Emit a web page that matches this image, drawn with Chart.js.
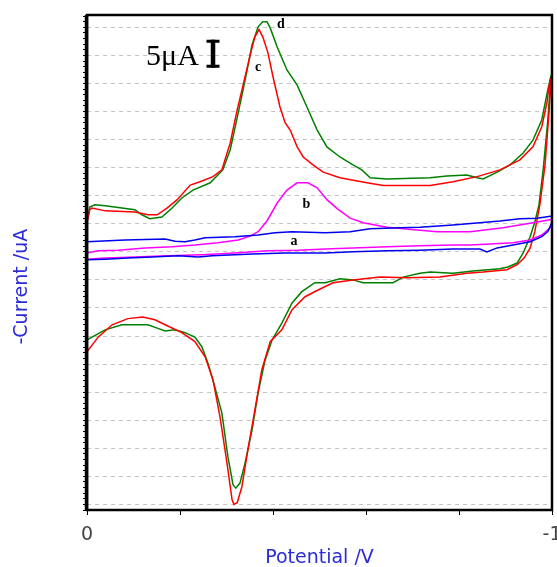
<!DOCTYPE html>
<html><head><meta charset="utf-8">
<script src="https://cdn.jsdelivr.net/npm/chart.js@4"></script>
<style>
html,body{margin:0;padding:0;background:#fff;overflow:hidden;width:557px;height:567px}
#wrap{position:absolute;left:0;top:0;width:575px;height:567px}
</style>
</head><body>
<div id="wrap"><canvas id="c" width="575" height="567"></canvas></div>
<script>
// ---- data (potential in V, -current in µA) ----
const aE = [0, -0.082, -0.168, -0.189, -0.211, -0.232, -0.254, -0.318, -0.368, -0.404, -0.441, -0.512, -0.566, -0.609, -0.673, -0.716, -0.787, -0.845, -0.888, -0.931, -0.968, -1.0,
  -1.0, -0.991, -0.978, -0.953, -0.916, -0.882, -0.860, -0.845, -0.787, -0.716, -0.645, -0.572, -0.512, -0.426, -0.355, -0.269, -0.239, -0.196, -0.140, -0.088, -0.039, 0, 0];
const aI = [6.8, 7.1, 7.3, 6.9, 6.8, 7.1, 7.5, 7.7, 8.0, 8.4, 8.6, 8.4, 8.6, 9.1, 9.3, 9.4, 9.8, 10.2, 10.5, 10.9, 11.0, 11.4,
  10.2, 8.6, 7.7, 6.8, 6.2, 5.7, 5.0, 5.5, 5.5, 5.3, 5.2, 5.0, 4.8, 4.8, 4.6, 4.3, 4.1, 4.3, 4.1, 3.9, 3.7, 3.6, 6.8];

const bE = [0, -0.024, -0.067, -0.125, -0.183, -0.232, -0.282, -0.325, -0.351, -0.368, -0.387, -0.409, -0.430, -0.452, -0.475, -0.495, -0.516, -0.538, -0.566, -0.594, -0.645, -0.680, -0.753, -0.824, -0.895, -0.946, -0.996, -1.0,
  -1.0, -0.996, -0.978, -0.953, -0.916, -0.867, -0.824, -0.787, -0.716, -0.645, -0.572, -0.512, -0.454, -0.389, -0.318, -0.247, -0.174, -0.103, -0.039, 0, 0];
const bI = [4.8, 5.2, 5.3, 5.7, 5.9, 6.2, 6.6, 7.1, 7.8, 8.6, 10.5, 13.7, 16.0, 17.3, 17.3, 16.4, 14.3, 12.7, 11.0, 10.2, 9.4, 9.1, 8.6, 8.6, 9.3, 10.0, 10.7, 10.9,
  10.5, 9.3, 8.0, 7.1, 6.6, 6.4, 6.2, 6.2, 6.1, 5.9, 5.7, 5.5, 5.3, 5.2, 4.8, 4.5, 4.3, 4.1, 3.9, 3.7, 4.8];

const cE = [0, -0.006, -0.011, -0.039, -0.103, -0.131, -0.151, -0.172, -0.194, -0.222, -0.243, -0.271, -0.290, -0.308, -0.323, -0.340, -0.351, -0.361, -0.370, -0.378, -0.389, -0.400, -0.415, -0.426, -0.437, -0.452, -0.465, -0.486, -0.508, -0.544, -0.602, -0.637, -0.738, -0.787, -0.839, -0.888, -0.931, -0.959, -0.978, -0.989, -0.994, -0.998,
  -0.994, -0.985, -0.974, -0.963, -0.953, -0.940, -0.925, -0.903, -0.852, -0.817, -0.759, -0.688, -0.630, -0.572, -0.529, -0.497, -0.469, -0.441, -0.419, -0.394, -0.376, -0.361, -0.346, -0.333, -0.323, -0.316, -0.312, -0.301, -0.286, -0.271, -0.254, -0.232, -0.204, -0.168, -0.146, -0.120, -0.088, -0.054, -0.024, 0, 0];
const cI = [10.2, 12.5, 12.8, 12.3, 12.1, 11.6, 11.6, 12.8, 14.3, 16.9, 17.5, 18.4, 19.6, 24.4, 30.3, 36.2, 40.1, 43.3, 44.6, 43.3, 40.5, 36.2, 30.8, 28.0, 26.7, 23.7, 21.9, 20.5, 19.2, 18.2, 17.3, 16.8, 16.8, 17.5, 18.4, 19.6, 21.4, 23.7, 27.3, 31.5, 34.7, 36.0,
  30.3, 20.5, 13.4, 8.6, 5.7, 3.9, 2.7, 1.8, 1.4, 1.2, 0.5, 0.4, 0.5, 0, -0.5, -1.8, -3.0, -5.3, -8.9, -11.0, -16.0, -23.2, -30.3, -36.9, -39.7, -40.0, -39.2, -32.6, -24.4, -17.8, -13.7, -11.0, -9.4, -8.0, -7.1, -6.6, -6.9, -8.0, -10.2, -12.8, 10.2];

const dE = [0, -0.006, -0.017, -0.039, -0.103, -0.118, -0.135, -0.161, -0.183, -0.204, -0.228, -0.265, -0.292, -0.308, -0.323, -0.340, -0.355, -0.368, -0.378, -0.387, -0.394, -0.409, -0.430, -0.452, -0.473, -0.495, -0.516, -0.544, -0.572, -0.591, -0.609, -0.645, -0.738, -0.774, -0.817, -0.839, -0.852, -0.882, -0.910, -0.938, -0.959, -0.978, -0.991, -0.998,
  -0.991, -0.981, -0.972, -0.963, -0.953, -0.938, -0.925, -0.905, -0.888, -0.830, -0.787, -0.738, -0.716, -0.680, -0.658, -0.594, -0.572, -0.544, -0.512, -0.490, -0.462, -0.441, -0.419, -0.398, -0.383, -0.368, -0.355, -0.340, -0.329, -0.320, -0.314, -0.303, -0.290, -0.275, -0.260, -0.247, -0.232, -0.211, -0.189, -0.168, -0.151, -0.131, -0.075, -0.039, 0, 0];
const dI = [10.3, 13.0, 13.4, 13.2, 12.5, 11.6, 10.9, 11.2, 12.8, 14.6, 16.0, 17.3, 19.6, 23.2, 28.9, 35.6, 41.9, 45.1, 46.0, 46.0, 44.9, 41.5, 37.4, 34.7, 30.8, 26.7, 23.7, 21.9, 20.5, 19.6, 18.2, 18.0, 18.2, 18.5, 18.7, 18.2, 18.0, 19.2, 20.5, 22.6, 24.9, 28.5, 33.9, 36.5,
  28.5, 19.6, 13.4, 10.3, 7.7, 4.8, 3.0, 2.3, 2.0, 1.6, 1.2, 1.4, 1.2, 0.5, -0.5, -0.5, 0, 0.2, -0.5, -0.5, -2.1, -4.1, -7.7, -10.7, -14.3, -20.1, -26.7, -32.6, -36.2, -37.1, -36.5, -31.5, -23.7, -19.1, -14.8, -11.9, -10.2, -9.4, -8.9, -9.1, -8.6, -8.0, -8.0, -8.9, -10.7, 10.3];

const curveNames = ['a', 'b', 'c', 'd'];
const curveColors = ['#0000f0', '#ff00ff', '#ff0000', '#008000'];
const labelE = [-0.445, -0.472, -0.368, -0.417];
const labelI = [6.9, 13.4, 37.8, 45.6];

const xTickValues = [0, -0.2, -0.4, -0.6, -0.8, -1];
const xTickLabels = ['0', '', '', '', '', '-1'];
const yMin = -41.0, yMax = 47.2;

const scaleText = '5\u03BCA';
const scaleTextE = -0.127, scaleTextI = 38.3;
const scaleBarE = -0.271, scaleBarTop = 42.8, scaleBarSize = 5;

// ---- build ----
const series = [[aE, aI], [bE, bI], [cE, cI], [dE, dI]];
const datasets = series.map(([E, I], k) => ({
  label: curveNames[k],
  data: E.map((e, i) => ({x: e, y: I[i]})),
  borderColor: curveColors[k],
  borderWidth: 1.5,
  showLine: true,
  pointRadius: 0,
  fill: false,
  tension: 0
}));

const annot = {
  id: 'annot',
  afterDatasetsDraw(chart) {
    const {ctx, chartArea: ca, scales: {x, y}} = chart;
    ctx.save();
    ctx.strokeStyle = '#000';
    ctx.lineWidth = 2.5;
    ctx.strokeRect(ca.left, ca.top, ca.right - ca.left, ca.bottom - ca.top);
    ctx.lineWidth = 3.5;
    ctx.beginPath(); ctx.moveTo(ca.left - 0.5, ca.top); ctx.lineTo(ca.left - 0.5, ca.bottom); ctx.stroke();
    ctx.fillStyle = '#000';
    ctx.font = 'bold 14px "Liberation Serif"';
    ctx.textAlign = 'center'; ctx.textBaseline = 'middle';
    curveNames.forEach((t, i) => ctx.fillText(t, x.getPixelForValue(labelE[i]), y.getPixelForValue(labelI[i])));
    ctx.font = '30px "Liberation Serif"';
    ctx.textAlign = 'left'; ctx.textBaseline = 'alphabetic';
    ctx.fillText(scaleText, x.getPixelForValue(scaleTextE), y.getPixelForValue(scaleTextI));
    const bx = x.getPixelForValue(scaleBarE);
    const by1 = y.getPixelForValue(scaleBarTop), by2 = y.getPixelForValue(scaleBarTop - scaleBarSize);
    ctx.lineWidth = 4.5;
    ctx.beginPath(); ctx.moveTo(bx, by1); ctx.lineTo(bx, by2); ctx.stroke();
    ctx.lineWidth = 3;
    ctx.beginPath();
    ctx.moveTo(bx - 6.5, by1 + 1.5); ctx.lineTo(bx + 6.5, by1 + 1.5);
    ctx.moveTo(bx - 6.5, by2 - 1.5); ctx.lineTo(bx + 6.5, by2 - 1.5);
    ctx.stroke();
    ctx.restore();
  }
};

const titleColor = '#2b2bd9';
new Chart(document.getElementById('c'), {
  type: 'scatter',
  data: {datasets},
  plugins: [annot],
  options: {
    responsive: false,
    animation: false,
    layout: {padding: {left: 0, top: 15, right: 23, bottom: 0}},
    plugins: {legend: {display: false}, tooltip: {enabled: false}},
    scales: {
      x: {
        type: 'linear', min: -1, max: 0, reverse: true,
        afterBuildTicks: s => { s.ticks = xTickValues.map(v => ({value: v})); },
        afterFit: s => { s.height = 57; },
        ticks: {callback: (v, i) => xTickLabels[i], color: '#444', font: {family: 'DejaVu Sans', size: 19}, padding: 9, maxRotation: 0, autoSkip: false},
        grid: {drawOnChartArea: false, color: '#000', tickColor: '#000', tickLength: 5},
        border: {display: false},
        title: {display: true, text: 'Potential /V', color: titleColor, font: {family: 'DejaVu Sans', size: 19}, padding: {top: 0, bottom: -2}}
      },
      y: {
        type: 'linear', min: yMin, max: yMax,
        afterBuildTicks: s => { const t = []; for (let v = Math.ceil(yMin); v <= yMax; v++) t.push({value: v}); s.ticks = t; },
        afterFit: s => { s.width = 87; },
        ticks: {display: false},
        grid: {
          color: c => (c.tick && c.tick.value % 5 === 0) ? '#c4c4c4' : 'rgba(0,0,0,0)',
          lineWidth: 1, tickColor: '#000', tickLength: 4, tickWidth: 1
        },
        border: {display: false, dash: [4, 4]},
        title: {display: true, text: '-Current /uA' + '        ', color: titleColor, font: {family: 'DejaVu Sans', size: 19}, padding: {top: 11, bottom: 0}}
      }
    }
  }
});
</script>
</body></html>
